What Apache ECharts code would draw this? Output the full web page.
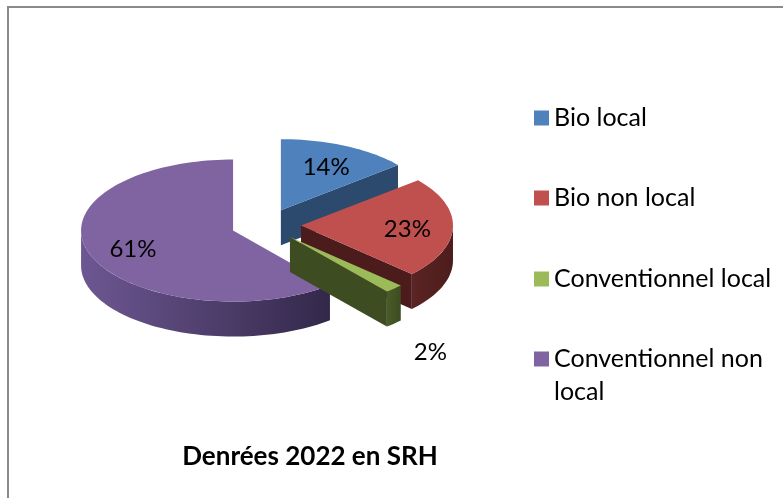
<!DOCTYPE html>
<html><head><meta charset="utf-8">
<script src="https://cdn.jsdelivr.net/npm/echarts@6/dist/echarts.min.js"></script>
<style>html,body{margin:0;padding:0;background:#fff}#c{width:783px;height:498px}</style>
</head><body><div id="c"></div>
<script>
// ---- data ----
const categories = ['Bio local', 'Bio non local', 'Conventionnel local', 'Conventionnel non local'];
const values = [14, 23, 2, 61];
const titleText = 'Denrées 2022 en SRH';

// ---- styles ----
const FONT = 'Lato, "Liberation Sans", sans-serif';
const topColors = ['#4F81BD', '#C0504D', '#9BBB59', '#8064A2'];
const sideColors = [['#35577f', '#2c4a6e'], ['#5c2424', '#4c1c1c'], ['#4a5c28', '#3d4c21'], ['#6d5792', '#33284a']];
const zOrder = [0, 2, 3, 1];
const geo = { cx: 266, cy: 225, rx: 152, ry: 71, depth: 35, explode: 35 };

const total = values.reduce((a, b) => a + b, 0);
const starts = []; let acc = 0; values.forEach(v => { starts.push(acc); acc += v; });

function makeRender(i) {
  return function (params, api) {
    const v = api.value(0);
    const th0 = starts[i] / total * 2 * Math.PI, th1 = (starts[i] + v) / total * 2 * Math.PI;
    const mid = (th0 + th1) / 2;
    const k = geo.ry / geo.rx;
    const c = [geo.cx + geo.explode * Math.sin(mid), geo.cy - geo.explode * k * Math.cos(mid)];
    const P = (th, r, dy) => [c[0] + geo.rx * r * Math.sin(th), c[1] - geo.ry * r * Math.cos(th) + (dy || 0)];
    const arc = (a, b, dy) => {
      const n = Math.max(2, Math.ceil(Math.abs(b - a) / (Math.PI / 90)));
      const out = [];
      for (let j = 0; j <= n; j++) out.push(P(a + (b - a) * j / n, 1, dy));
      return out;
    };
    const D = geo.depth;
    const zb = zOrder[i] * 10;
    const children = [];
    const face = th => [c, P(th, 1, 0), P(th, 1, D), [c[0], c[1] + D]];
    if (Math.sin(th0) < -1e-6) children.push({ type: 'polygon', shape: { points: face(th0) }, style: { fill: sideColors[i][1] }, z2: zb + 1 });
    if (Math.sin(th1) > 1e-6) children.push({ type: 'polygon', shape: { points: face(th1) }, style: { fill: sideColors[i][1] }, z2: zb + 1 });
    const a = Math.max(th0, Math.PI / 2), b = Math.min(th1, 3 * Math.PI / 2);
    if (b > a) {
      const pts = arc(a, b, 0).concat(arc(b, a, D));
      children.push({
        type: 'polygon', shape: { points: pts },
        style: { fill: { type: 'linear', x: 0, y: 0, x2: 1, y2: 0, colorStops: [{ offset: 0, color: sideColors[i][0] }, { offset: 1, color: sideColors[i][1] }] } },
        z2: zb + 2
      });
    }
    children.push({ type: 'polygon', shape: { points: [c].concat(arc(th0, th1, 0)) }, style: { fill: topColors[i] }, z2: zb + 3 });
    const share = v / total;
    const lp = share < 0.05 ? P(mid, 1.35, D * 1.3) : P(mid, 0.7, D * 0.05);
    children.push({
      type: 'text', z2: 100,
      style: { text: Math.round(share * 100) + '%', x: lp[0], y: lp[1], align: 'center', verticalAlign: 'middle', fontSize: 24, fontFamily: FONT, fill: '#000' }
    });
    return { type: 'group', children };
  };
}

const chart = echarts.init(document.getElementById('c'));
const legendCenters = [118, 198, 279, 359];
const LH = 33;
const legends = categories.map((name, i) => {
  const multi = name === 'Conventionnel non local';
  return {
    data: [name],
    orient: 'vertical', left: 534,
    top: legendCenters[i] - LH / 2,
    padding: 0, itemWidth: 15, itemHeight: multi ? 15 + LH : 15,
    // for the two-line item, the square sits at the top of a taller icon box so it lines up with the first line
    icon: multi ? 'path://M0,0h15v15h-15z M0,47.9h0.01v0.1h-0.01z' : 'rect',
    formatter: n => n === 'Conventionnel non local' ? 'Conventionnel non\nlocal' : n,
    textStyle: { fontSize: 25, fontFamily: FONT, color: '#000', lineHeight: LH }
  };
});

chart.setOption({
  animation: false,
  backgroundColor: '#fff',
  title: {
    text: titleText, left: 310, top: 444, textAlign: 'center', padding: 0,
    textStyle: { fontSize: 26, fontWeight: 'bold', fontFamily: FONT, color: '#000' }
  },
  legend: legends,
  graphic: [{ type: 'rect', shape: { x: 8, y: 7, width: 800, height: 500 }, style: { fill: 'none', stroke: '#8a8a8a', lineWidth: 2 }, silent: true }],
  series: categories.map((name, i) => ({
    type: 'custom', name, coordinateSystem: 'none',
    itemStyle: { color: topColors[i] },
    data: [values[i]],
    renderItem: makeRender(i)
  }))
});
</script>
</body></html>
